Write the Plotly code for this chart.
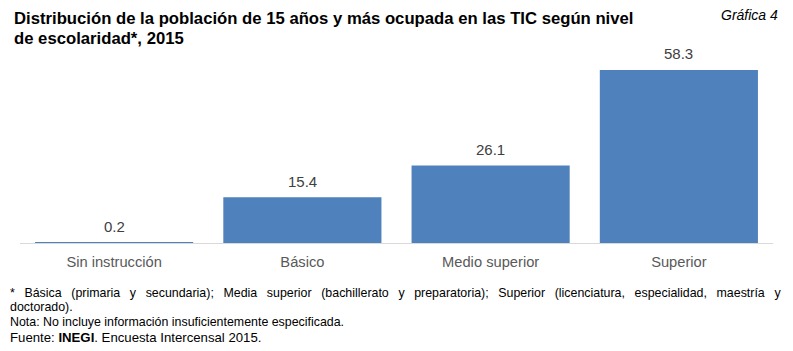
import plotly.graph_objects as go

categories = ["Sin instrucción", "Básico", "Medio superior", "Superior"]
values = [0.2, 15.4, 26.1, 58.3]

W, H = 793, 351
ML, MR, MT, MB = 20, 20, 59, 108
PW, PH = W - ML - MR, H - MT - MB

def px(x):
    return (x - ML) / PW

def py(y):
    return (H - MB - y) / PH

fig = go.Figure(go.Bar(
    x=categories, y=values,
    marker=dict(color="#4F81BD", line=dict(width=0)),
    hoverinfo="skip",
))

sans = "Liberation Sans, Arial"
annotations = []
# value labels
for c, v in zip(categories, values):
    annotations.append(dict(
        x=c, y=v, xref="x", yref="y", text=f"{v:.1f}", showarrow=False,
        yanchor="middle", yshift=16,
        font=dict(family=sans, size=15, color="#404040")))

def txt(text, x, y, size, anchor="left", color="#000000"):
    annotations.append(dict(
        text=text, x=px(x), y=py(y), xref="paper", yref="paper",
        xanchor=anchor, yanchor="middle", showarrow=False, align="left",
        font=dict(family=sans, size=size, color=color)))

txt("<b>Distribución de la población de 15 años y más ocupada en las TIC según nivel</b>", 12, 18, 16.7)
txt("<b>de escolaridad*, 2015</b>", 12, 39, 16.7)
txt("<i>Gráfica 4</i>", 780, 15, 14, anchor="right")

G = " \u2002"
line1 = G.join(["*", "Básica", "(primaria", "y", "secundaria);", "Media", "superior",
                "(bachillerato", "y", "preparatoria);", "Superior", "(licenciatura,",
                "especialidad,", "maestría", "y"])
txt(line1, 8, 293, 12.4)
txt("doctorado).", 8, 307, 12.4)
txt("Nota: No incluye información insuficientemente especificada.", 8, 322, 12.4)
txt("Fuente: <b>INEGI</b>. Encuesta Intercensal 2015.", 8, 337, 13.2)

fig.update_layout(
    width=W, height=H,
    margin=dict(l=ML, r=MR, t=MT, b=MB),
    paper_bgcolor="white", plot_bgcolor="white",
    bargap=0.16,
    showlegend=False,
    annotations=annotations,
    xaxis=dict(showline=True, linecolor="#D9D9D9", linewidth=1, ticks="",
               layer="above traces", ticklabelstandoff=5,
               tickfont=dict(family=sans, size=14.7, color="#595959"),
               showgrid=False),
    yaxis=dict(range=[0, 62], visible=False, showgrid=False, zeroline=False),
)

fig.write_html("out.html")
